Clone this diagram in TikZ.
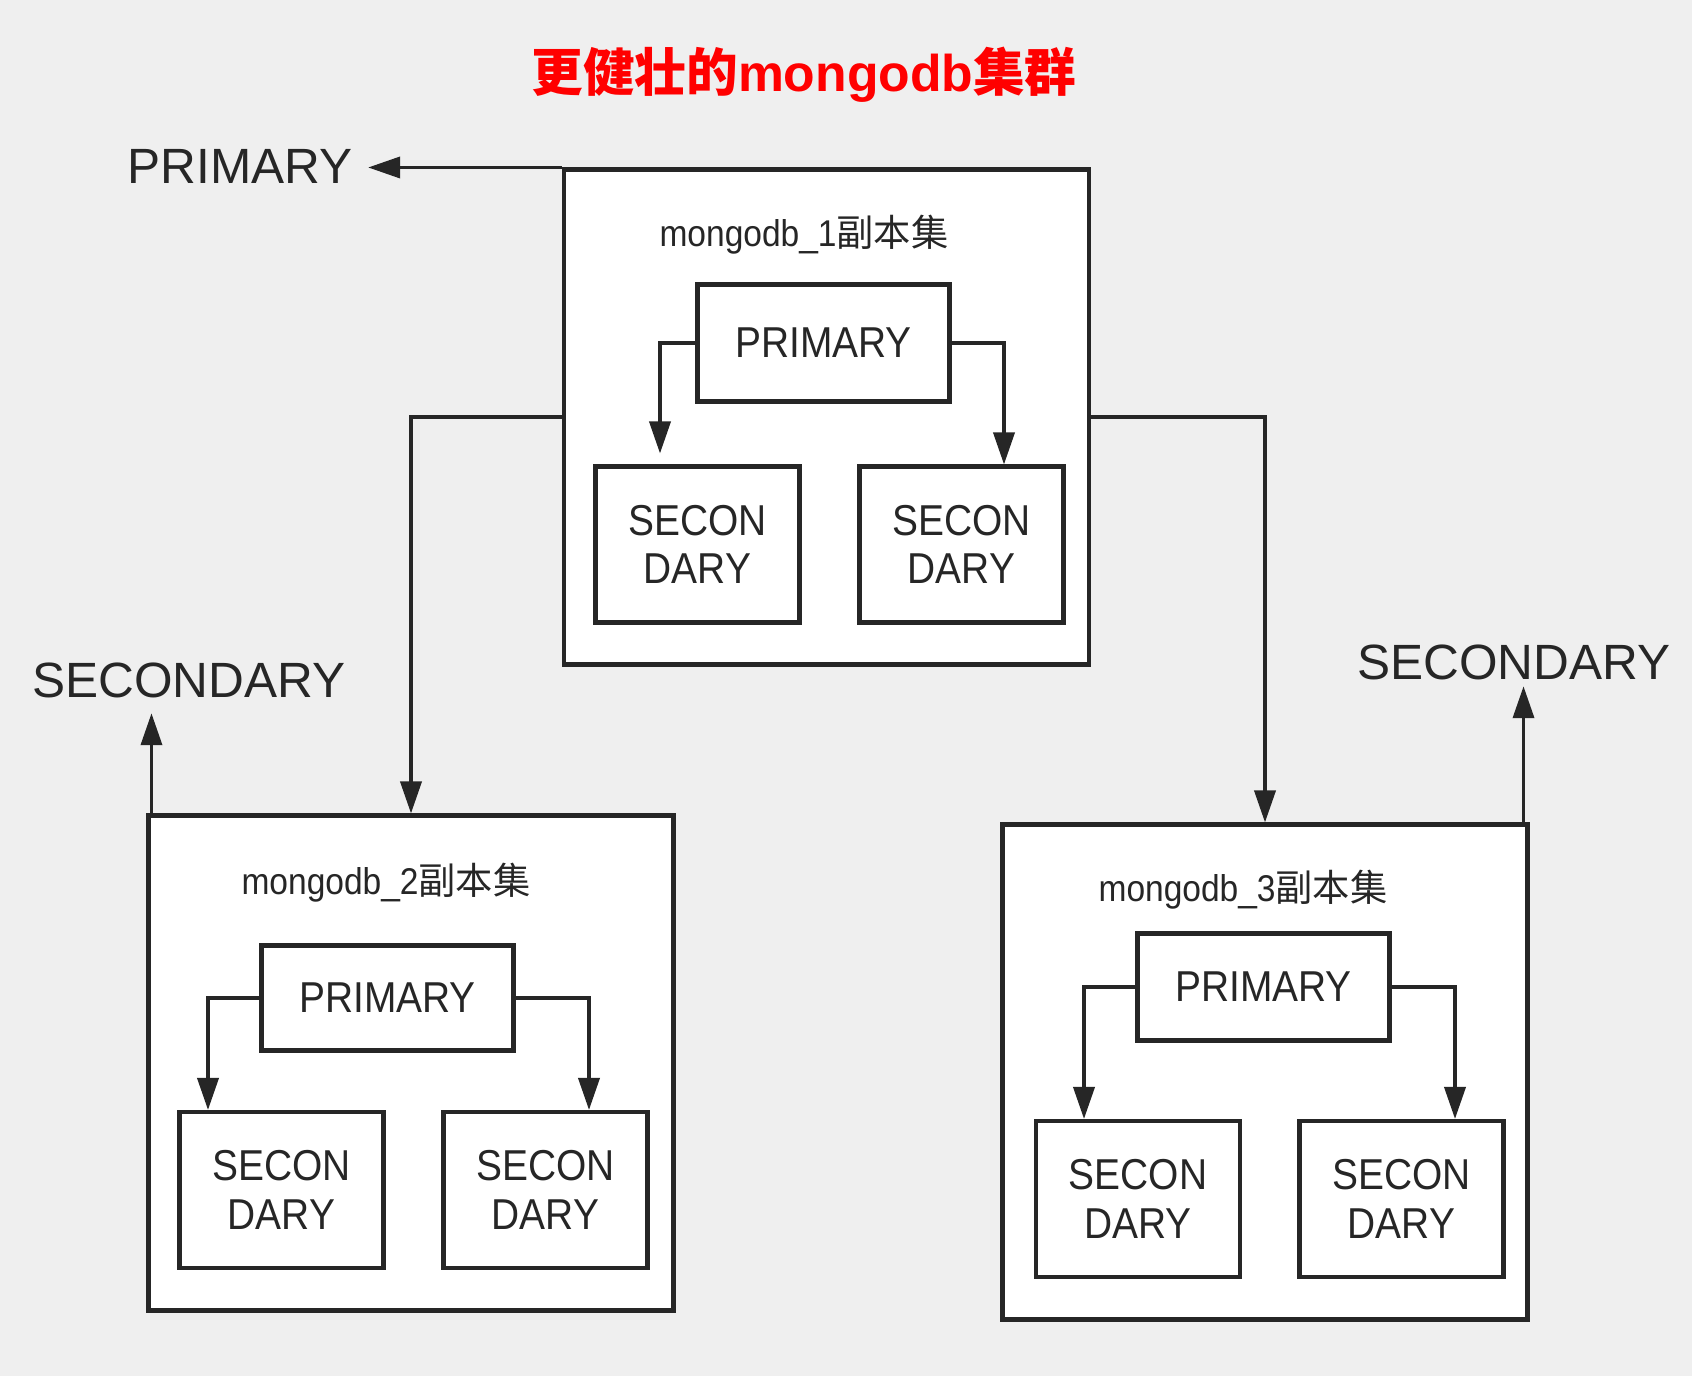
\documentclass[tikz,border=0pt]{standalone}
\usepackage{fontspec}
\setmainfont{Liberation Sans}
\newfontfamily\narrowfont[FakeStretch=0.9]{Liberation Sans}
\newfontfamily\cjk{Noto Sans CJK SC}
\usepackage{xcolor}
\usetikzlibrary{arrows.meta}
\definecolor{ink}{HTML}{262626}
\definecolor{bg}{HTML}{EFEFEF}
\definecolor{titlered}{HTML}{FF0000}
\tikzset{
  set box/.style={
    draw=ink,
    line width=1.15pt,
    fill=white,
    minimum width=52.5mm,
    minimum height=49.5mm
  },
  member/.style={
    draw=ink,
    line width=1.15pt,
    fill=white,
    minimum width=20.4mm,
    minimum height=15.6mm,
    align=center,
    text=ink,
    font=\narrowfont\fontsize{12.3}{13.8}\selectfont
  },
  prim/.style={member, minimum width=25.2mm},
  set label/.style={text=ink, font=\narrowfont\fontsize{10.6}{12}\selectfont},
  role label/.style={text=ink, inner sep=1.5mm, font=\fontsize{14.1}{16}\selectfont},
  link/.style={
    -{Triangle[length=3.2mm, width=2.1mm]},
    draw=ink,
    line width=1.05pt
  }
}

\begin{document}
\begin{tikzpicture}[x=0.1mm, y=-0.1mm]
  \fill[bg] (0,0) rectangle (1692,1376);
  \useasboundingbox (0,0) rectangle (1692,1376);

  % Title
  \node[text=titlered, font=\bfseries\fontsize{14.7}{17}\selectfont] (title) at (804,75)
    {{\cjk 更健壮的}mongodb{\cjk 集群}};

  % Replica set 1
  \node[set box] (rs1) at (826.5,417) {};
  \node[set label] (lbl1) at (804,235) {mongodb\_1{\cjk 副本集}};
  \node[prim, minimum height=11.7mm] (p1) at (823.5,343) {PRIMARY};
  \node[member] (s1a) at (697.5,544.5) {SECON\\DARY};
  \node[member] (s1b) at (961.5,544.5) {SECON\\DARY};

  % Replica set 2
  \node[set box] (rs2) at (411,1063) {};
  \node[set label] (lbl2) at (386,883) {mongodb\_2{\cjk 副本集}};
  \node[prim, minimum height=10.5mm] (p2) at (387.5,998) {PRIMARY};
  \node[member] (s2a) at (281.5,1190) {SECON\\DARY};
  \node[member] (s2b) at (545.5,1190) {SECON\\DARY};

  % Replica set 3
  \node[set box] (rs3) at (1265,1072) {};
  \node[set label] (lbl3) at (1243,890) {mongodb\_3{\cjk 副本集}};
  \node[prim, minimum height=10.7mm] (p3) at (1263.5,987) {PRIMARY};
  \node[member] (s3a) at (1138,1199) {SECON\\DARY};
  \node[member] (s3b) at (1401.5,1199) {SECON\\DARY};

  % Roles
  \node[role label] (roleP) at (240,166) {PRIMARY};
  \node[role label] (roleS2) at (189,680) {SECONDARY};
  \node[role label] (roleS3) at (1514,662) {SECONDARY};

  % Replication inside the sets
  \draw[link, shorten >=1.1mm] (p1.west) -| ([xshift=-3.75mm]s1a.north);
  \draw[link] (p1.east) -| ([xshift=4.25mm]s1b.north);
  \draw[link] (p2.west) -| ([xshift=-7.35mm]s2a.north);
  \draw[link] (p2.east) -| ([xshift=4.35mm]s2b.north);
  \draw[link] (p3.west) -| ([xshift=-5.4mm]s3a.north);
  \draw[link] (p3.east) -| ([xshift=5.35mm]s3b.north);

  % Links between the sets
  \draw[link] (rs1.west) -| (rs2.north);
  \draw[link] (rs1.east) -| (rs3.north);
  \draw[link] (rs1.north west) -- (rs1.north west -| roleP.east);
  \draw[link] ([xshift=0.5mm]rs2.north west) -- ([xshift=0.5mm]rs2.north west |- roleS2.south);
  \draw[link, shorten >=-0.9mm] ([xshift=-0.6mm]rs3.north east) -- ([xshift=-0.6mm]rs3.north east |- roleS3.south);
\end{tikzpicture}
\end{document}
